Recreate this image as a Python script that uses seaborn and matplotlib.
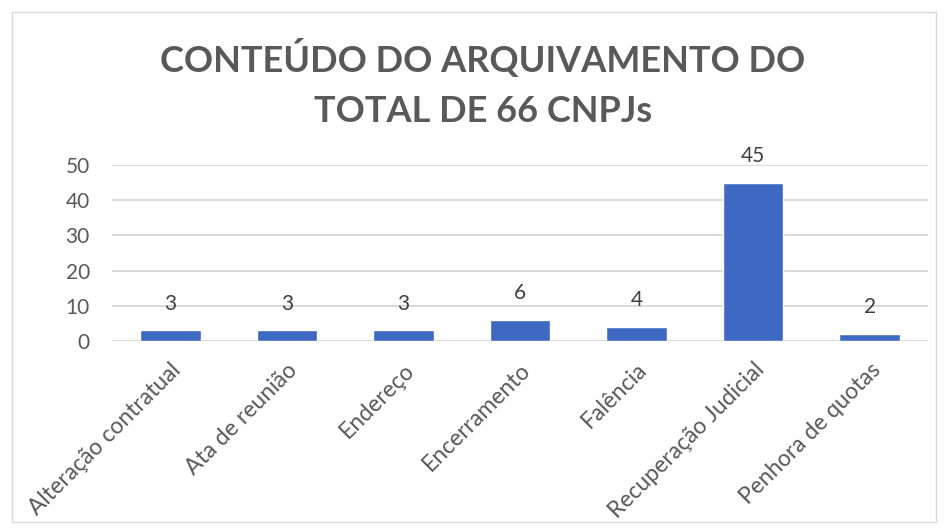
import pandas as pd
import seaborn as sns
import matplotlib.pyplot as plt
from matplotlib.patches import Rectangle

categorias = ['Alteração contratual', 'Ata de reunião', 'Endereço', 'Encerramento',
              'Falência', 'Recuperação Judicial', 'Penhora de quotas']
quantidade = [3, 3, 3, 6, 4, 45, 2]
yticks = [0, 10, 20, 30, 40, 50]

titulo = 'CONTEÚDO DO ARQUIVAMENTO DO\nTOTAL DE 66 CNPJs'

sns.set_theme(style='white')
plt.rcParams['font.family'] = ['Lato', 'DejaVu Sans']

df = pd.DataFrame({'categoria': categorias, 'quantidade': quantidade})

fig = plt.figure(figsize=(9.46, 5.29), dpi=100)
ax = fig.add_axes([0.1184, 0.3554, 0.8626, 0.3327])

sns.barplot(data=df, x='categoria', y='quantidade', color='#3E69C2',
            width=0.52, saturation=1, ax=ax, zorder=3)

ax.set_ylim(0, 50)
ax.set_yticks(yticks)
ax.set_xlim(-0.5, len(categorias) - 0.5)
ax.grid(axis='y', color='#D9D9D9', linewidth=1.4, zorder=0)
ax.grid(axis='x', visible=False)
for s in ax.spines.values():
    s.set_visible(False)
ax.set_xlabel('')
ax.set_ylabel('')
ax.tick_params(axis='y', length=0, pad=16, labelsize=15, labelcolor='#595959')
ax.tick_params(axis='x', length=0, pad=13, labelsize=16.5, labelcolor='#595959')
plt.setp(ax.get_xticklabels(), rotation=45, ha='right', rotation_mode='anchor')

for cont in ax.containers:
    ax.bar_label(cont, labels=[str(v) for v in quantidade], padding=12,
                 fontsize=15, color='#404040', clip_on=False)

fig.text(0.5106, 0.842, titulo, ha='center', va='center', fontsize=26,
         fontweight='bold', color='#595959', linespacing=1.62)

# borda do gráfico
fig.patches.append(Rectangle((12 / 946, 7 / 529), 924 / 946, 510 / 529,
                             transform=fig.transFigure, fill=False,
                             edgecolor='#D9D9D9', linewidth=1))

fig.savefig('out.png', dpi=100)
